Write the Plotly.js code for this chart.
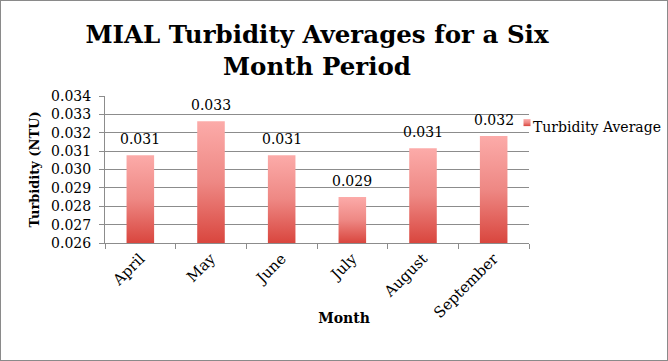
<!DOCTYPE html>
<html><head><meta charset="utf-8">
<script src="https://cdn.plot.ly/plotly-3.0.1.min.js"></script>
<style>
html,body{margin:0;padding:0;background:#fff;}
#chart{width:666px;height:359px;border:1px solid #8a8a8a;}
</style></head>
<body><div id="chart"></div>
<script>
const months = ["April","May","June","July","August","September"];
const turbidity = [0.03078, 0.03263, 0.03078, 0.02850, 0.03116, 0.03182];
const seriesName = "Turbidity Average";
const yTicks = [0.026,0.027,0.028,0.029,0.030,0.031,0.032,0.033,0.034];

const serif = "'DejaVu Serif', serif";
const trace = {
  type:"bar", x:months, y:turbidity, name:seriesName,
  marker:{color:"#e35f58"}, width:0.39, cliponaxis:false
};
const labels = months.map(function(m,i){
  return {x:m, y:turbidity[i], xref:"x", yref:"y", text:turbidity[i].toFixed(3),
    showarrow:false, yanchor:"bottom", yshift:6, font:{family:serif,size:14,color:"#000"}};
});
const layout = {
  width:666, height:359,
  margin:{l:104,r:138,t:95,b:117,autoexpand:false},
  paper_bgcolor:"#fff", plot_bgcolor:"#fff",
  font:{family:serif,color:"#000"},
  title:{text:"<b>MIAL Turbidity Averages for a Six<br>Month Period</b>",
    font:{family:serif,size:24.5,color:"#000"}, x:0.5, xref:"paper", y:0.882, yref:"container", yanchor:"middle"},
  showlegend:true,
  legend:{xref:"paper", yref:"paper", x:0.9151, xanchor:"left", y:0.789, yanchor:"middle",
    font:{family:serif,size:14}, bgcolor:"rgba(0,0,0,0)"},
  annotations:labels,
  xaxis:{tickangle:-45, tickfont:{family:serif,size:15}, showline:true, linecolor:"#8c8c8c",
    ticks:"outside", tickson:"boundaries", ticklen:5, tickcolor:"#8c8c8c",
    title:{text:"<b>Month</b>", font:{family:serif,size:14}, standoff:4}},
  yaxis:{range:[0.026,0.034], tickvals:yTicks, tickformat:".3f", tickfont:{family:serif,size:14},
    showgrid:true, gridcolor:"#8c8c8c", showline:true, linecolor:"#8c8c8c", ticks:"outside",
    ticklen:5, tickcolor:"#8c8c8c", zeroline:false, ticklabelstandoff:5,
    title:{text:"<b>Turbidity (NTU)</b>", font:{family:serif,size:13}, standoff:8}}
};
Plotly.newPlot("chart",[trace],layout,{displayModeBar:false,staticPlot:true}).then(function(gd){
  const svg = gd.querySelector("svg.main-svg");
  const ns = "http://www.w3.org/2000/svg";
  const defs = svg.querySelector("defs");
  const h = gd._fullLayout._size.h;
  function grad(id, y1, y2, units){
    const lg = document.createElementNS(ns,"linearGradient");
    lg.setAttribute("id",id);
    if(units){ lg.setAttribute("gradientUnits","userSpaceOnUse"); }
    lg.setAttribute("x1","0"); lg.setAttribute("x2","0");
    lg.setAttribute("y1",String(y1)); lg.setAttribute("y2",String(y2));
    [["0","#fcaba9"],["0.5","#ee8884"],["1","#d9463e"]].forEach(function(s){
      const st=document.createElementNS(ns,"stop"); st.setAttribute("offset",s[0]); st.setAttribute("stop-color",s[1]); lg.appendChild(st);
    });
    defs.appendChild(lg);
  }
  gd.querySelectorAll(".barlayer .point path").forEach(function(p,i){
    const nums = (p.getAttribute("d")||"").match(/-?[\d.]+/g).map(Number);
    const ys = [nums[1], nums[2], nums[4]];
    const top = Math.min.apply(null, ys);
    grad("barGrad"+i, top, h, true);
    p.style.fill = "url(#barGrad"+i+")";
  });
  grad("legGrad", 0, 1, false);
  gd.querySelectorAll(".legend .legendpoints path").forEach(function(p){
    p.setAttribute("d","M3.5,3.5H-3.5V-3.5H3.5Z");
    p.setAttribute("transform",(p.getAttribute("transform")||"")+" translate(14,-4)");
    p.style.fill = "url(#legGrad)";
  });
  const xt = gd.querySelector(".g-xtitle text");
  if(xt){
    const bb = xt.getBBox();
    const dx = 343 - (bb.x + bb.width/2), dy = 317 - (bb.y + bb.height/2);
    xt.setAttribute("x", String(parseFloat(xt.getAttribute("x")) + dx));
    xt.setAttribute("y", String(parseFloat(xt.getAttribute("y")) + dy));
  }
});
</script></body></html>
